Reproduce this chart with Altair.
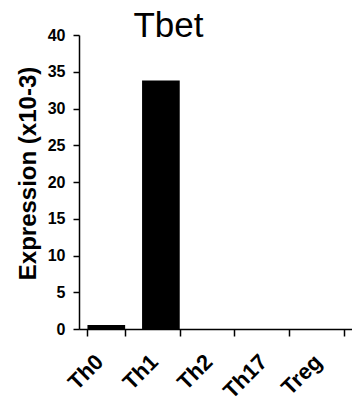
import altair as alt
import pandas as pd

cells = ["Th0", "Th1", "Th2", "Th17", "Treg"]
values = [0.55, 33.8, 0.0, 0.0, 0.0]
y_ticks = [0, 5, 10, 15, 20, 25, 30, 35, 40]

df = pd.DataFrame({"cell": cells, "value": values})
FONT = "Liberation Sans"

chart = alt.Chart(df).mark_bar(color="black").encode(
    x=alt.X(
        "cell:N",
        sort=cells,
        scale=alt.Scale(paddingInner=0.31, paddingOuter=0.155),
        axis=alt.Axis(
            title=None,
            labelAngle=-45,
            labelAlign="right",
            labelBaseline="middle",
            labelFont=FONT,
            labelFontSize=22,
            labelFontWeight="bold",
            labelColor="black",
            labelPadding=22,
            labelOffset=-7,
            labelLimit=200,
            labelOverlap=False,
            labelBound=False,
            tickBand="extent",
            tickSize=7,
            tickColor="black",
            tickWidth=1.5,
            domainColor="black",
            domainWidth=1.5,
            grid=False,
        ),
    ),
    y=alt.Y(
        "value:Q",
        scale=alt.Scale(domain=[0, 40], nice=False),
        axis=alt.Axis(
            values=y_ticks,
            title="Expression (x10-3)",
            titleFont=FONT,
            titleFontSize=24,
            titleFontWeight="bold",
            titleColor="black",
            titleAngle=-90,
            titleAlign="center",
            titleBaseline="alphabetic",
            titleX=-44,
            titleY=138,
            labelFont=FONT,
            labelFontSize=16,
            labelFontWeight="bold",
            labelColor="black",
            labelPadding=8,
            tickSize=6,
            tickColor="black",
            tickWidth=1.5,
            domainColor="black",
            domainWidth=1.5,
            grid=False,
        ),
    ),
).properties(
    width=273,
    height=294,
    title=alt.TitleParams(
        "Tbet",
        font=FONT,
        fontSize=35,
        fontWeight="normal",
        color="black",
        anchor="middle",
        baseline="alphabetic",
        dx=-47,
        offset=-45,
    ),
    autosize=alt.AutoSizeParams(type="none"),
    padding={"left": 79, "top": 35, "right": 0, "bottom": 69},
).configure_view(stroke="transparent")

chart.save("out.html", embed_options={"renderer": "svg", "actions": False})
